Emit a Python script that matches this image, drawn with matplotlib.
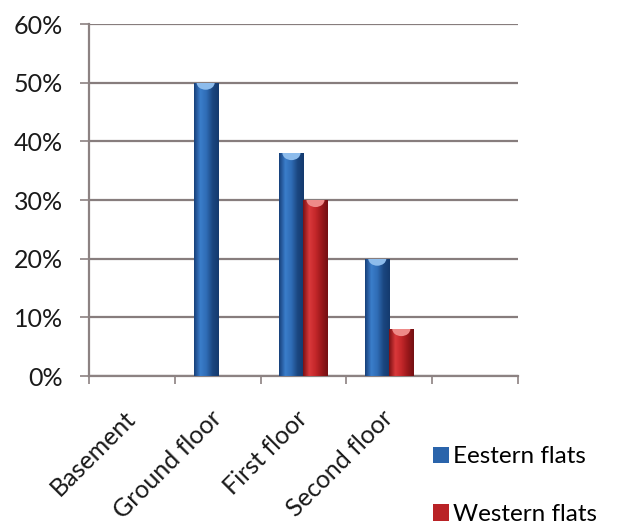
import numpy as np
import matplotlib.pyplot as plt
import matplotlib.transforms as mtrans
from matplotlib.colors import LinearSegmentedColormap
from matplotlib.patches import Ellipse
from matplotlib.ticker import FixedLocator, PercentFormatter

# share of flats per floor (%)
floors = ['Basement', 'Ground floor', 'First floor', 'Second floor', '']
eastern = [0, 50, 38, 20, 0]
western = [0, 0, 30, 8, 0]

plt.rcParams['font.family'] = ['Lato', 'DejaVu Sans']

fig = plt.figure(figsize=(6.2, 5.29), dpi=100)
ax = fig.add_axes([0.1435, 0.2892, 0.692, 0.6654])

x = np.arange(len(floors))
w = 0.28

# cylinder-like shading across each bar
blue_cm = LinearSegmentedColormap.from_list('blue_bar', ['#17407a', '#3b7ecb', '#2f6cb5', '#1b4680', '#143a6e'])
red_cm = LinearSegmentedColormap.from_list('red_bar', ['#7c1114', '#d9393b', '#c4272a', '#9a181b', '#731013'])
grad = np.linspace(0, 1, 64).reshape(1, -1)


def shaded_bars(pos, vals, cmap, solid, cap, label):
    bars = ax.bar(pos, vals, w, color=solid, linewidth=0, label=label, zorder=3)
    for b in bars:
        h = b.get_height()
        if h <= 0:
            continue
        x0, bw = b.get_x(), b.get_width()
        im = ax.imshow(grad, cmap=cmap, aspect='auto', zorder=4,
                       extent=[x0, x0 + bw, 0, h])
        im.set_clip_path(b)
        # light rim on top of the bar
        top = Ellipse((x0 + bw / 2, h), bw * 0.75, 2.4, color=cap, zorder=5, lw=0)
        ax.add_patch(top)
        top.set_clip_path(b)
    return bars


shaded_bars(x - w / 2, eastern, blue_cm, '#2a64ab', '#8dbcec', 'Eestern flats')
shaded_bars(x + w / 2, western, red_cm, '#b92226', '#ee8a88', 'Western flats')

ax.set_xlim(-0.5, len(floors) - 0.5)
ax.set_ylim(0, 60)

# y axis
ax.yaxis.set_major_locator(FixedLocator(np.arange(0, 61, 10)))
ax.yaxis.set_major_formatter(PercentFormatter(decimals=0))
ax.yaxis.grid(True, color='#877d7d', linewidth=1.6, zorder=1)
ax.set_axisbelow(True)
ax.tick_params(axis='y', direction='out', length=6.5, width=1.2, color='#8c8282',
               pad=12, labelsize=18, labelcolor='#1a1a1a')

# x axis: tick marks between floors, labels in the middle
ax.xaxis.set_major_locator(FixedLocator(np.arange(-0.5, len(floors), 1)))
ax.xaxis.set_minor_locator(FixedLocator(x))
ax.set_xticklabels([], minor=False)
ax.set_xticklabels(floors, minor=True, rotation=45, ha='right', va='top')
ax.tick_params(axis='x', which='major', direction='out', length=6, width=1.2, color='#8c8282')
ax.tick_params(axis='x', which='minor', length=0, pad=22, labelsize=18, labelcolor='#1a1a1a')
shift = mtrans.ScaledTranslation(6 / 72, 0, fig.dpi_scale_trans)
for lab in ax.get_xticklabels(minor=True):
    lab.set_transform(lab.get_transform() + shift)

for side in ['top', 'right']:
    ax.spines[side].set_visible(False)
for side in ['left', 'bottom']:
    ax.spines[side].set_color('#8c8282')
    ax.spines[side].set_linewidth(1.6)

fig.legend(loc='upper left', bbox_to_anchor=(0.698, 0.156), frameon=False,
           fontsize=17.5, handlelength=0.65, handleheight=0.65, handletextpad=0.2,
           labelspacing=1.5, borderpad=0, borderaxespad=0)

fig.savefig('out.png', dpi=100, facecolor='white')
